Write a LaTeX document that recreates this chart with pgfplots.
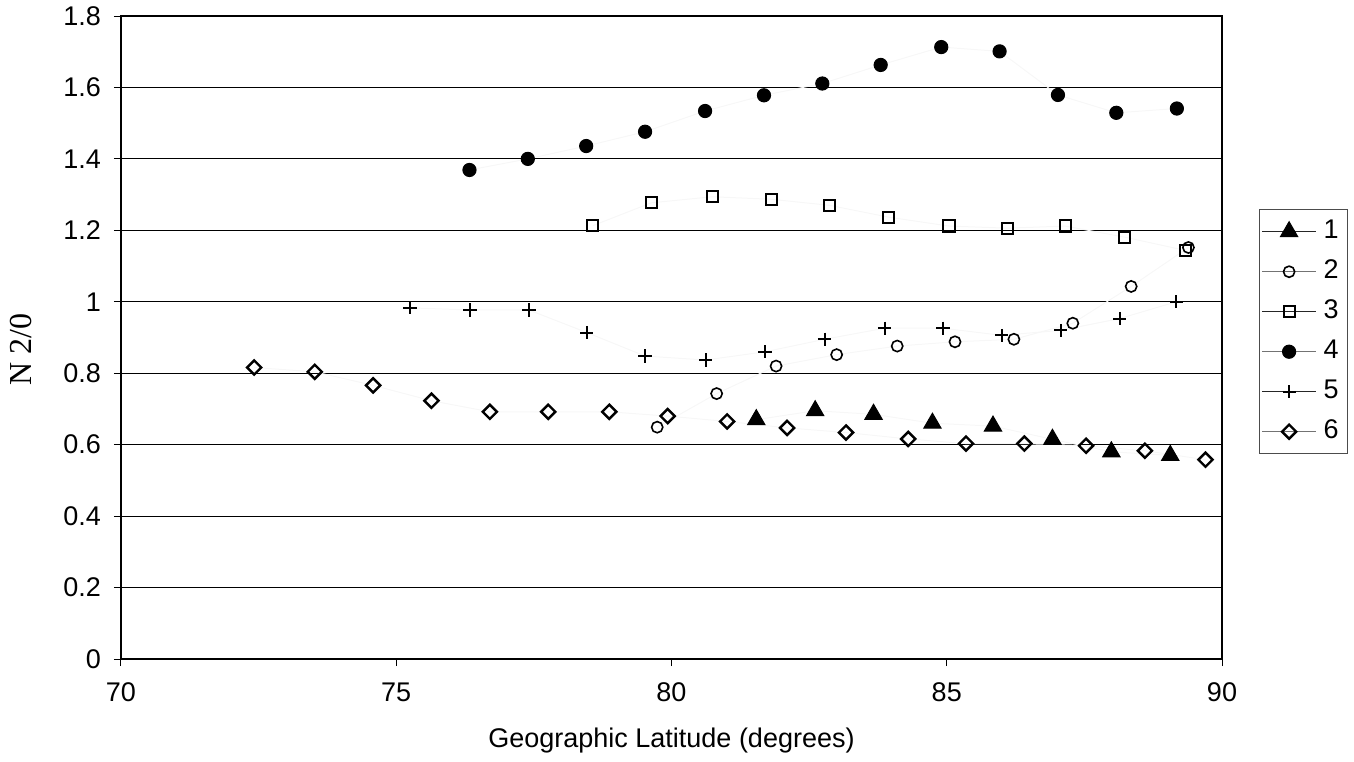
\documentclass[border=0pt]{standalone}
\usepackage{fontspec}
\setmainfont{Liberation Sans}
\newfontfamily\serif{Liberation Serif}
\usepackage{pgfplots}
\pgfplotsset{compat=1.18}

\pgfplotsset{
  leg/.style={legend image code/.code={
    \draw[draw=#1, line width=0.6pt, solid] (0pt,0pt) -- (27pt,0pt);
    \draw[only marks] plot coordinates {(13.5pt,0pt)};}},
  faint/.style={color=black!3, line width=0.5pt},
}

\begin{document}
\begin{tikzpicture}
\useasboundingbox (-60.5pt,-51pt) rectangle (616.5pt,329.5pt);
\begin{axis}[
  scale only axis, width=550.5pt, height=321.5pt,
  xmin=70, xmax=90, ymin=0, ymax=1.8,
  xtick={70,75,80,85,90},
  ytick={0,0.2,0.4,0.6,0.8,1,1.2,1.4,1.6,1.8},
  ymajorgrids, major grid style={black, line width=0.5pt},
  axis line style={line width=1pt},
  tick align=outside, tick pos=left, major tick length=3.5pt,
  tick style={black, line width=0.5pt},
  ticklabel style={font=\fontsize{13.5}{16}\selectfont},
  yticklabel style={xshift=-3pt},
  xticklabel style={yshift=-5pt},
  /pgf/number format/assume math mode=true,
  xlabel={Geographic Latitude (degrees)},
  xlabel style={at={(axis description cs:0.5,0)}, anchor=base, yshift=-44pt,
    font=\fontsize{13.5}{16}\selectfont},
  ylabel={\serif N 2/0},
  ylabel style={at={(axis description cs:-0.0908,0.482)}, anchor=center,
    font=\fontsize{16}{18}\selectfont},
  legend style={at={(1.0336,0.509)}, anchor=west, draw=black!70, line width=0.5pt,
    font=\fontsize{13.5}{16}\selectfont,
    nodes={text height=10pt, text depth=3pt, inner sep=3.5pt}, row sep=0pt,
    inner sep=1pt},
  legend cell align=left,
]
% 1
\addplot[faint, leg=black!85, mark=triangle*, mark size=5pt,
  mark options={draw=black, fill=black, solid, line width=0.5pt}] coordinates {
  (81.54,0.67) (82.61,0.695) (83.67,0.685) (84.74,0.66) (85.84,0.652)
  (86.92,0.615) (87.99,0.58) (89.06,0.57)};
% 2
\addplot[faint, leg=black!55, mark=o, mark size=2.8pt,
  mark options={draw=black, fill=white, solid, line width=0.8pt}] coordinates {
  (79.74,0.649) (80.82,0.743) (81.9,0.82) (83.0,0.852) (84.1,0.876)
  (85.15,0.888) (86.22,0.895) (87.29,0.94) (88.35,1.043) (89.39,1.152)};
% 3
\addplot[faint, leg=black!85, mark=square, mark size=2.8pt,
  mark options={draw=black, fill=white, solid, line width=1pt}] coordinates {
  (78.57,1.213) (79.63,1.277) (80.74,1.294) (81.81,1.287) (82.87,1.270)
  (83.94,1.237) (85.04,1.212) (86.11,1.206) (87.15,1.212) (88.23,1.181)
  (89.33,1.144)};
% 4
\addplot[faint, leg=black!55, mark=*, mark size=3.3pt,
  mark options={draw=black, fill=black, solid}] coordinates {
  (76.33,1.369) (77.39,1.400) (78.45,1.436) (79.52,1.476) (80.61,1.534)
  (81.68,1.578) (82.74,1.611) (83.80,1.663) (84.90,1.713) (85.96,1.701)
  (87.02,1.579) (88.08,1.529) (89.18,1.541)};
% 5
\addplot[faint, leg=black!85, mark=+, mark size=3.3pt,
  mark options={draw=black, solid, line width=1pt}] coordinates {
  (75.25,0.983) (76.34,0.977) (77.41,0.977) (78.46,0.914) (79.52,0.848)
  (80.62,0.837) (81.7,0.86) (82.78,0.895) (83.87,0.926) (84.93,0.926)
  (86.0,0.906) (87.07,0.92) (88.14,0.953) (89.17,1.0)};
% 6
\addplot[faint, leg=black!55, mark=square, mark size=2.5pt,
  mark options={draw=black, fill=white, solid, line width=1.2pt, rotate=45}] coordinates {
  (72.42,0.816) (73.52,0.804) (74.58,0.766) (75.64,0.723) (76.70,0.692)
  (77.76,0.692) (78.87,0.692) (79.93,0.68) (81.01,0.665) (82.10,0.647)
  (83.17,0.634) (84.30,0.616) (85.35,0.603) (86.41,0.603) (87.53,0.597)
  (88.60,0.583) (89.70,0.558)};
\legend{1,2,3,4,5,6}
\end{axis}
\end{tikzpicture}
\end{document}
